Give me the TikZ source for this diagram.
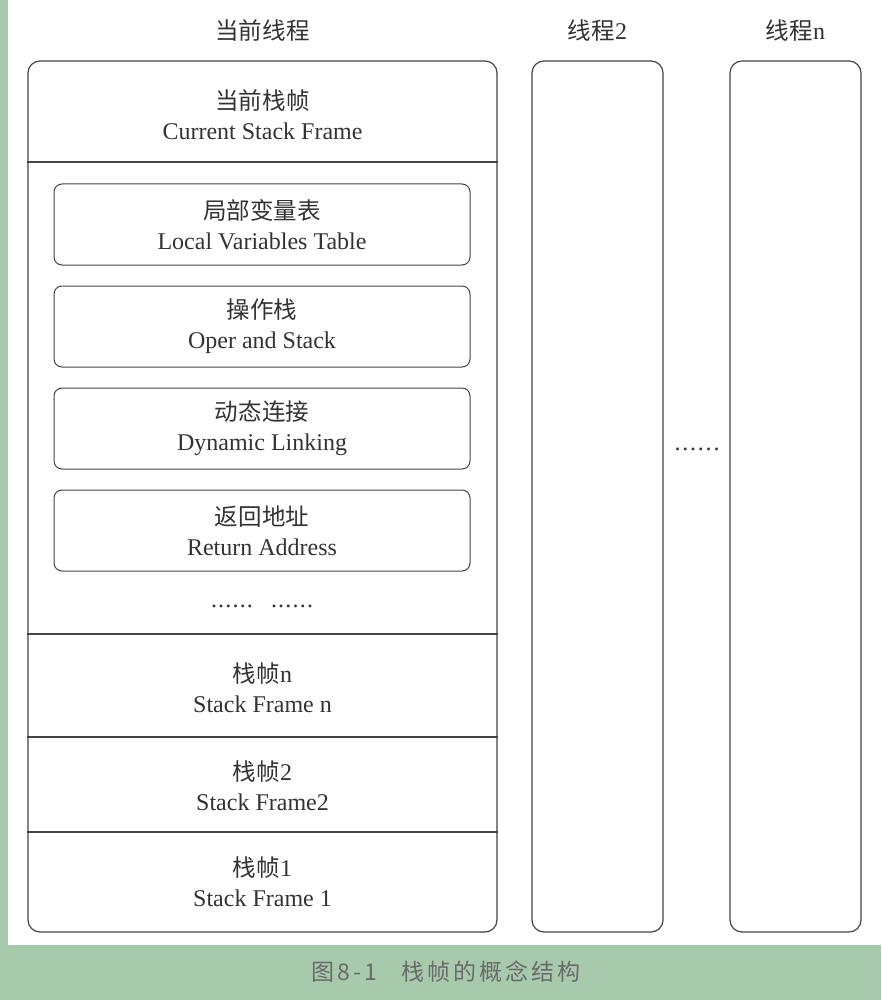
\documentclass[tikz,border=0pt]{standalone}
\usepackage{fontspec}
\setmainfont{Liberation Serif}
\newfontfamily\cjk[Scale=0.98]{Noto Sans CJK SC}
\newfontfamily\capfont[LetterSpace=13]{Noto Sans CJK SC}
\usetikzlibrary{positioning}
\definecolor{pagegreen}{HTML}{A7CAAD}
\definecolor{linegray}{HTML}{444444}
\definecolor{textgray}{HTML}{333333}
\definecolor{capgray}{HTML}{6A6A6A}
\newcommand\sixdots[1]{.\kern#1.\kern#1.\kern#1.\kern#1.\kern#1.}

\begin{document}
\begin{tikzpicture}[x=1pt,y=-1pt,
    every node/.style={font=\fontsize{24}{30}\selectfont,text=textgray,align=center,inner sep=0pt},
    thread box/.style={draw=linegray,line width=1.2pt,rounded corners=12pt,minimum width=131pt,minimum height=871pt},
    part box/.style={draw=linegray,line width=1pt,rounded corners=8pt,minimum width=416pt,minimum height=81pt},
    sep line/.style={draw=linegray,line width=1.1pt}]
    % page
    \fill[pagegreen] (0,0) rectangle (881,1000);
    \fill[white] (8,0) rectangle (881,945);
    \useasboundingbox (0,0) rectangle (881,1000);
    % threads
    \node [thread box,minimum width=469pt] (cur) at (262.5,496.5) {};
    \node [thread box] (t2) at (597.5,496.5) {};
    \node [thread box] (tn) at (795.5,496.5) {};
    \node (curtitle) at (262.5,31) {{\cjk 当前线程}};
    \node (t2title) at (597.5,31) {{\cjk 线程}2};
    \node (tntitle) at (795.5,31) {{\cjk 线程}n};
    \node (tdots) at (697,449) {\sixdots{1.8pt}};
    % current frame
    \node (curframe) at (262.5,115) {{\cjk 当前栈帧}\\Current Stack Frame};
    \node [part box] (lvt) at (262,224.5) {{\cjk 局部变量表}\\Local Variables Table};
    \node [part box] (ops) at (262,326.5) {{\cjk 操作栈}\\Oper and Stack};
    \node [part box] (dyn) at (262,428.5) {{\cjk 动态连接}\\Dynamic Linking};
    \node [part box] (ret) at (262,530.5) {{\cjk 返回地址}\\Return Address};
    \node (pdots) at (262,606) {\sixdots{1.2pt}\kern18pt\sixdots{1.2pt}};
    % older frames
    \node (sfn) at (262.5,688) {{\cjk 栈帧}n\\Stack Frame n};
    \node (sf2) at (262.5,785.5) {{\cjk 栈帧}2\\Stack Frame2};
    \node (sf1) at (262.5,882) {{\cjk 栈帧}1\\Stack Frame 1};
    \coordinate (d1) at (0,162);
    \coordinate (d2) at (0,634);
    \coordinate (d3) at (0,737);
    \coordinate (d4) at (0,832);
    \foreach \d in {d1,d2,d3,d4}
        \draw[sep line] (cur.west |- \d) -- (cur.east |- \d);
    \node [font=\capfont\fontsize{23}{26}\selectfont,text=capgray] (caption) at (446,972) {图8-1\hspace{24pt}栈帧的概念结构};
\end{tikzpicture}
\end{document}
